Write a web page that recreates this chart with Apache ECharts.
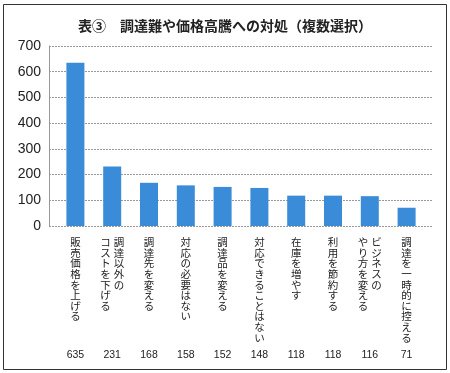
<!DOCTYPE html>
<html><head><meta charset="utf-8">
<script src="https://cdn.jsdelivr.net/npm/echarts@6/dist/echarts.min.js"></script>
<style>html,body{margin:0;padding:0;background:#fff}#c{width:450px;height:373px}</style>
</head><body><div id="c"></div>
<script>
const title = "表③　調達難や価格高騰への対処（複数選択）";
const categories = ["販売価格を上げる", "調達以外の\nコストを下げる", "調達先を変える", "対応の必要はない", "調達品を変える", "対応できることはない", "在庫を増やす", "利用を節約する", "ビジネスの\nやり方を変える", "調達を一時的に控える"];
const values = [635, 231, 168, 158, 152, 148, 118, 118, 116, 71];
const yMin = 0, yMax = 700, yStep = 100;

function verticalLabel(s) {
  const cols = s.split("\n").reverse().map(t => Array.from(t));
  const n = Math.max(...cols.map(c => c.length));
  const rows = [];
  for (let i = 0; i < n; i++) {
    rows.push(cols.map(c => "{c|" + (c[i] || "　") + "}").join(""));
  }
  return rows.join("\n");
}

const chart = echarts.init(document.getElementById('c'), null, {renderer: 'canvas'});
const font = "'Liberation Sans', Arial, sans-serif";
const jp = "'Noto Sans CJK JP', sans-serif";
chart.setOption({
  animation: false,
  backgroundColor: '#fff',
  title: {
    text: title, left: 'center', top: 14,
    textStyle: {fontFamily: jp, fontSize: 14, fontWeight: 'bold', color: '#222'}
  },
  graphic: [{
    type: 'rect', shape: {x: 3.5, y: 4.5, width: 443, height: 365},
    style: {fill: 'none', stroke: '#333', lineWidth: 1}, z: -1
  }],
  grid: [
    {left: 49, right: 18, top: 46, bottom: 147},
    {left: 57, right: 25, top: 46, bottom: 147}
  ],
  xAxis: [
    {gridIndex: 0, type: 'category', data: categories, show: false},
    {gridIndex: 1, type: 'category', data: categories,
     axisLine: {show: false}, axisTick: {show: false},
     axisLabel: {interval: 0, margin: 11, formatter: verticalLabel, verticalAlign: 'top',
       rich: {c: {fontFamily: jp, fontSize: 10.5, lineHeight: 10.6, width: 13.5, align: 'center', color: '#222'}}}},
    {gridIndex: 1, type: 'category', data: values.map(String), position: 'bottom', offset: 118,
     axisLine: {show: false}, axisTick: {show: false},
     axisLabel: {interval: 0, margin: 6, fontFamily: font, fontSize: 10.5, color: '#222'}}
  ],
  yAxis: [
    {gridIndex: 0, type: 'value', min: yMin, max: yMax, interval: yStep,
     axisLine: {show: true, lineStyle: {color: '#999', width: 1}},
     axisTick: {show: false},
     splitLine: {show: true, lineStyle: {color: '#999', type: [2, 1], width: 1}},
     axisLabel: {fontFamily: font, fontSize: 14, color: '#222', margin: 8}},
    {gridIndex: 1, type: 'value', min: yMin, max: yMax, interval: yStep, show: false,
     splitLine: {show: false}}
  ],
  series: [{
    type: 'bar', xAxisIndex: 1, yAxisIndex: 1, data: values, barWidth: 18,
    itemStyle: {color: '#3a8bd8'}
  }]
});
</script></body></html>
